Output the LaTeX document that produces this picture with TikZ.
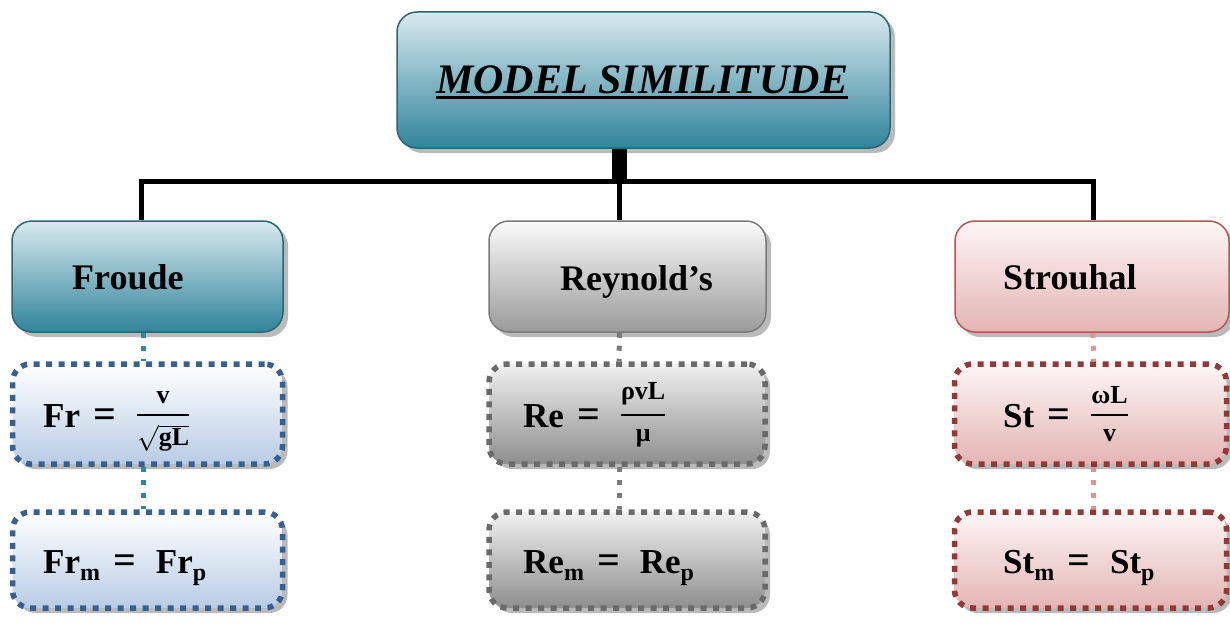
\documentclass[tikz,border=0pt]{standalone}
\usepackage{fix-cm}
\usepackage{fontspec}
\setmainfont{Liberation Serif}
\usetikzlibrary{shadows}
\definecolor{tealT}{HTML}{D8E9EE}
\definecolor{tealB}{HTML}{31849B}
\definecolor{tealD}{HTML}{2A6675}
\definecolor{tealDot}{HTML}{31859C}
\definecolor{greyT}{HTML}{FAFAFA}
\definecolor{greyB}{HTML}{9A9A9A}
\definecolor{greyD}{HTML}{7A7A7A}
\definecolor{greyFT}{HTML}{F0F0F0}
\definecolor{greyF}{HTML}{8E8E8E}
\definecolor{greyDot}{HTML}{6A6A6A}
\definecolor{pinkT}{HTML}{FDF5F5}
\definecolor{pinkB}{HTML}{E3B5B4}
\definecolor{pinkD}{HTML}{B65552}
\definecolor{pinkDot}{HTML}{953735}
\definecolor{pinkLine}{HTML}{D99694}
\definecolor{blueB}{HTML}{B8CCE4}
\definecolor{blueDot}{HTML}{376092}
\newcommand\myul[1]{\setbox0\hbox{#1}\rlap{\rule[-6pt]{\wd0}{3pt}}\box0}
\newcommand\bigf{\fontsize{35}{40}\selectfont\bfseries}
\newcommand\smf{\fontsize{26}{28}\selectfont\bfseries}
\newcommand\subf{\fontsize{24}{26}\selectfont\bfseries}
\newcommand\eqs{\hspace{13pt}{\fontsize{40}{40}\selectfont =}\hspace{20pt}}
\newcommand\myfrac[2]{\raisebox{5pt}{\fontsize{28}{32}\selectfont$\displaystyle{\mbox{\smf #1}\above2.8pt\mbox{\smf #2}}$}}
\begin{document}
\begin{tikzpicture}[x=1pt,y=-1pt,
  shade/.style={drop shadow={shadow xshift=5pt,shadow yshift=-5pt,fill=black!45,opacity=0.6}},
  solidbox/.style={shade,rounded corners=20pt,line width=1.5pt,inner sep=0pt},
  dotbox/.style={shade,rounded corners=18pt,line width=5.5pt,dash pattern=on 6pt off 6.5pt,inner sep=0pt,top color=white},
  lbl/.style={inner sep=0pt,anchor=base west,font=\fontsize{36}{40}\selectfont\bfseries},
  frm/.style={inner sep=0pt,anchor=base west,font=\bigf},
  trunk/.style={line width=5pt,draw=black},
  dotc/.style={line width=5pt,dash pattern=on 5pt off 8pt}]
\useasboundingbox (0,0) rectangle (1230,626);

% top box
\node[solidbox,draw=tealD,top color=tealT,bottom color=tealB,minimum width=493pt,minimum height=136pt] (top) at (643.5,80) {};
\node[inner sep=0pt,anchor=base west,font=\fontsize{42}{46}\selectfont\bfseries\itshape] (topT) at (436,93) {\myul{MODEL SIMILITUDE}};

% category boxes
\node[solidbox,draw=tealD,top color=tealT,bottom color=tealB,minimum width=271pt,minimum height=111pt] (froude) at (147.5,276.5) {};
\node[solidbox,draw=greyD,top color=greyT,bottom color=greyB,minimum width=277pt,minimum height=111pt] (reyn) at (627.5,276.5) {};
\node[solidbox,draw=pinkD,top color=pinkT,bottom color=pinkB,minimum width=274pt,minimum height=111pt] (strou) at (1092,276.5) {};
\node[lbl] (froudeT) at (72,289) {Froude};
\node[lbl] (reynT) at (560,290) {Reynold’s};
\node[lbl] (strouT) at (1003,289) {Strouhal};

% formula boxes
\node[dotbox,draw=blueDot,bottom color=blueB,minimum width=270pt,minimum height=100pt] (fr) at (147.5,414) {};
\node[dotbox,draw=blueDot,bottom color=blueB,minimum width=270pt,minimum height=96pt] (frm) at (147.5,560) {};
\node[dotbox,draw=greyDot,top color=greyFT,bottom color=greyF,minimum width=276pt,minimum height=100pt] (re) at (627,414) {};
\node[dotbox,draw=greyDot,top color=greyFT,bottom color=greyF,minimum width=276pt,minimum height=96pt] (rem) at (627,560) {};
\node[dotbox,draw=pinkDot,top color=pinkT,bottom color=pinkB,minimum width=272pt,minimum height=100pt] (st) at (1090.5,414) {};
\node[dotbox,draw=pinkDot,top color=pinkT,bottom color=pinkB,minimum width=272pt,minimum height=96pt] (stm) at (1090.5,560) {};

\node[frm] (frT) at (43,427) {Fr\eqs\myfrac{v}{$\sqrt{\mbox{\smf gL}}$}};
\node[frm] (frmT) at (43,573) {Fr\raisebox{-7pt}{\subf m}\eqs Fr\raisebox{-7pt}{\subf p}};
\node[frm] (reT) at (523,427) {Re\eqs\myfrac{ρvL}{μ}};
\node[frm] (remT) at (523,573) {Re\raisebox{-7pt}{\subf m}\eqs Re\raisebox{-7pt}{\subf p}};
\node[frm] (stT) at (1003,427) {St\eqs\myfrac{ωL}{v}};
\node[frm] (stmT) at (1003,573) {St\raisebox{-7pt}{\subf m}\eqs St\raisebox{-7pt}{\subf p}};

% trunk connectors
\coordinate (j) at (619.5,181);
\coordinate (jl) at (141,181);
\coordinate (jr) at (1093,181);
\draw[line width=15pt] (top.south -| j) -- ([yshift=2pt]j);
\draw[trunk] ([xshift=-2.5pt]jl) -- ([xshift=2.5pt]jr);
\draw[trunk] (jl) -- (jl |- froude.north);
\draw[trunk] (j) -- (j |- reyn.north);
\draw[trunk] (jr) -- (jr |- strou.north);

% dotted connectors
\draw[dotc,draw=tealDot] ([xshift=-4pt]froude.south) -- ([xshift=-4pt]fr.north);
\draw[dotc,draw=tealDot] ([xshift=-4pt]fr.south) -- ([xshift=-4pt]frm.north);
\draw[dotc,draw=greyD] ([xshift=-8pt]reyn.south) -- ([xshift=-8pt]re.north);
\draw[dotc,draw=greyD] ([xshift=-8pt]re.south) -- ([xshift=-8pt]rem.north);
\draw[dotc,draw=pinkLine] ([xshift=1pt]strou.south) -- ([xshift=3pt]st.north);
\draw[dotc,draw=pinkLine] ([xshift=3pt]st.south) -- ([xshift=3pt]stm.north);
\end{tikzpicture}
\end{document}
